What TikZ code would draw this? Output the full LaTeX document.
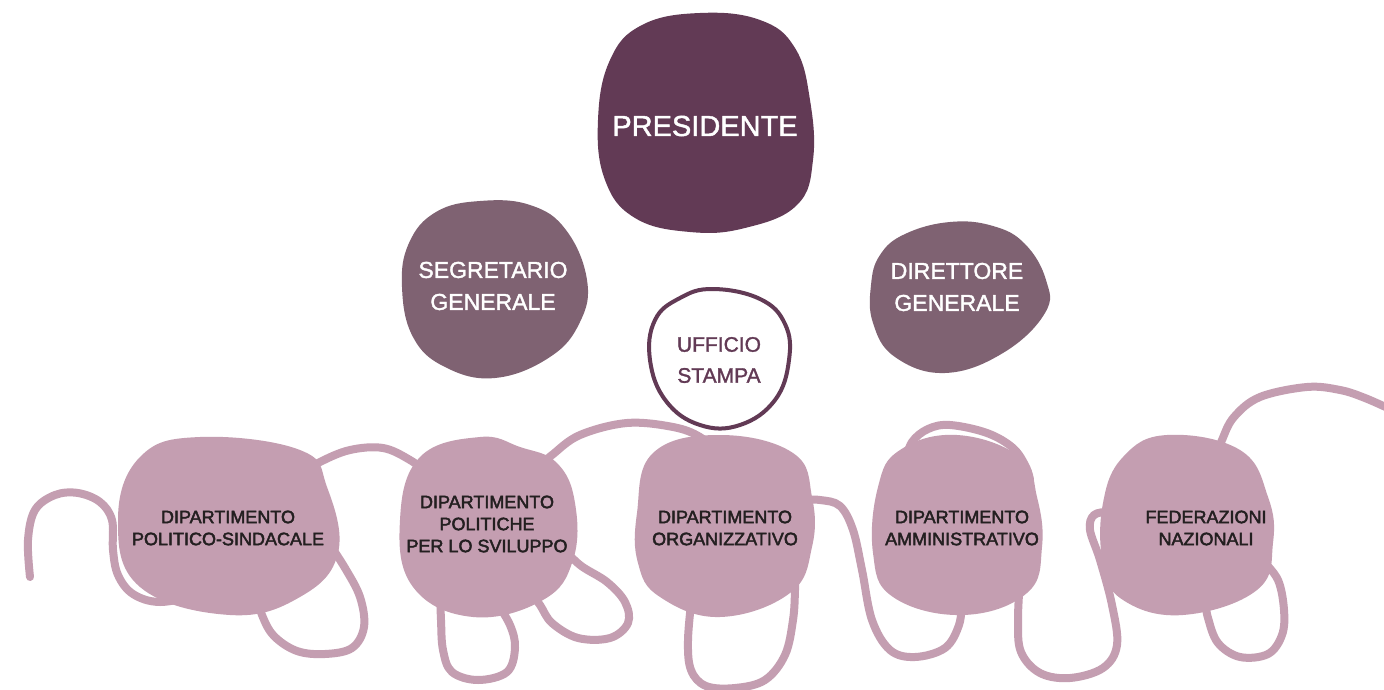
\documentclass[tikz,border=0pt]{standalone}
\usepackage{fontspec}
\setmainfont{Liberation Sans}
\newfontfamily\medfont[FakeBold=2.5]{Liberation Sans}
\newfontfamily\semifont[FakeBold=1.5]{Liberation Sans}
\definecolor{presc}{HTML}{623A55}
\definecolor{secc}{HTML}{7F6272}
\definecolor{lilac}{HTML}{C49EB1}
\definecolor{darktext}{HTML}{231F20}
\begin{document}
\begin{tikzpicture}[x=1pt,y=-1pt,
  wave/.style={draw=lilac, line width=8pt, line cap=round, line join=round},
  blobfill/.style={fill=#1, draw=none},
  bigtext/.style={text=white, font=\semifont\fontsize{29}{34}\selectfont, align=center, inner sep=0pt},
  toptext/.style={text=white, font=\semifont\fontsize{23}{32}\selectfont, align=center, inner sep=0pt},
  presstext/.style={text=presc, font=\semifont\fontsize{21}{31}\selectfont, align=center, inner sep=0pt},
  deptext/.style={text=darktext, font=\medfont\fontsize{18}{22}\selectfont, align=center, inner sep=0pt}]
\useasboundingbox[fill=white] (0,0) rectangle (1384,690);

% wavy line (behind the blobs)
\draw[wave] plot[smooth, tension=0.6] coordinates {(30,577) (28,540) (35,510) (55,495) (78,493) (100,502) (112,520) (113,550) (118,575) (133,594) (160,602) (200,595)};
\draw[wave] plot[smooth, tension=0.6] coordinates {(255,590) (262,615) (274,636) (297,651) (325,654) (352,648) (364,627) (360,597) (345,568) (330,545)};
\draw[wave] plot[smooth, tension=0.6] coordinates {(300,475) (320,462) (350,450) (383,448) (410,460) (430,475)};
\draw[wave] plot[smooth, tension=0.6] coordinates {(440,590) (441,620) (443,650) (452,672) (478,680) (507,672) (515,648) (510,625) (495,600)};
\draw[wave] plot[smooth, tension=0.6] coordinates {(560,545) (580,565) (607,582) (625,602) (628,623) (610,638) (578,638) (552,623) (540,605) (530,592)};
\draw[wave] plot[smooth, tension=0.6] coordinates {(535,470) (552,455) (580,435) (627,423) (673,427) (700,437) (720,455)};
\draw[wave] plot[smooth, tension=0.6] coordinates {(692,595) (688,640) (691,670) (706,686) (735,688) (765,680) (785,655) (793,620) (795,590) (795,570)};
\draw[wave] plot[smooth, tension=0.6] coordinates {(800,500) (820,500) (840,506) (853,530) (862,570) (872,620) (890,650) (915,657) (945,648) (959,625) (962,600)};
\draw[wave] plot[smooth, tension=0.6] coordinates {(905,462) (912,442) (928,429) (950,425) (987,433) (1013,448) (1026,467) (1030,480)};
\draw[wave] plot[smooth, tension=0.6] coordinates {(1020,580) (1018,620) (1021,652) (1040,673) (1070,678) (1103,668) (1117,645) (1112,605) (1100,560) (1090,530) (1094,515) (1110,512) (1125,515)};
\draw[wave] plot[smooth, tension=0.6] coordinates {(1262,560) (1278,580) (1284,610) (1282,635) (1268,654) (1240,657) (1218,643) (1208,618) (1205,600)};
\draw[wave] plot[smooth, tension=0.6] coordinates {(1215,460) (1222,440) (1234,417) (1260,397) (1307,387) (1340,390) (1365,398) (1392,410)};

% top blobs
\fill[blobfill=presc] plot[smooth cycle, tension=0.7] coordinates {(700,13) (760,20) (795,48) (810,100) (813,160) (797,205) (745,228) (690,232) (635,218) (605,180) (598,120) (610,60) (642,25)};
\fill[blobfill=secc] plot[smooth cycle, tension=0.7] coordinates {(480,201) (530,205) (566,230) (587,280) (580,322) (550,357) (495,378) (445,367) (413,337) (402,287) (409,243) (436,212)};
\fill[blobfill=secc] plot[smooth cycle, tension=0.7] coordinates {(950,222) (993,226) (1025,244) (1046,280) (1045,313) (1003,353) (945,373) (895,357) (873,323) (871,285) (880,255) (905,234)};

% ufficio stampa outline
\draw[presc, line width=4pt] plot[smooth cycle, tension=0.7] coordinates {(713,289) (760,299) (785,324) (789,360) (775,400) (740,425) (700,425) (666,401) (650,360) (655,320) (680,298)};

% bottom blobs
\fill[blobfill=lilac] plot[smooth cycle, tension=0.7] coordinates {(200,437) (300,450) (327,487) (338,553) (300,597) (230,615) (140,587) (118,520) (140,457)};
\fill[blobfill=lilac] plot[smooth cycle, tension=0.7] coordinates {(480,437) (520,447) (557,463) (575,503) (573,560) (543,600) (473,617) (413,587) (400,520) (420,457)};
\fill[blobfill=lilac] plot[smooth cycle, tension=0.7] coordinates {(720,435) (793,453) (812,497) (812,547) (790,593) (720,617) (660,597) (638,563) (637,513) (653,453)};
\fill[blobfill=lilac] plot[smooth cycle, tension=0.7] coordinates {(957,435) (1020,457) (1037,497) (1042,547) (1027,593) (963,615) (893,597) (873,553) (878,487) (900,450)};
\fill[blobfill=lilac] plot[smooth cycle, tension=0.7] coordinates {(1167,435) (1240,450) (1268,497) (1273,543) (1257,590) (1183,615) (1123,600) (1103,563) (1103,503) (1123,457)};

% texts
\node[bigtext] (pres) at (705,126) {PRESIDENTE};
\node[toptext] (seg) at (493,286) {SEGRETARIO\\GENERALE};
\node[toptext] (dir) at (957,287) {DIRETTORE\\GENERALE};
\node[presstext] (uff) at (719,360) {UFFICIO\\STAMPA};
\node[deptext] (d1) at (228,528) {DIPARTIMENTO\\POLITICO-SINDACALE};
\node[deptext] (d2) at (487,524) {DIPARTIMENTO\\POLITICHE\\PER LO SVILUPPO};
\node[deptext] (d3) at (725,528) {DIPARTIMENTO\\ORGANIZZATIVO};
\node[deptext] (d4) at (962,528) {DIPARTIMENTO\\AMMINISTRATIVO};
\node[deptext] (d5) at (1206,528) {FEDERAZIONI\\NAZIONALI};
\end{tikzpicture}
\end{document}
